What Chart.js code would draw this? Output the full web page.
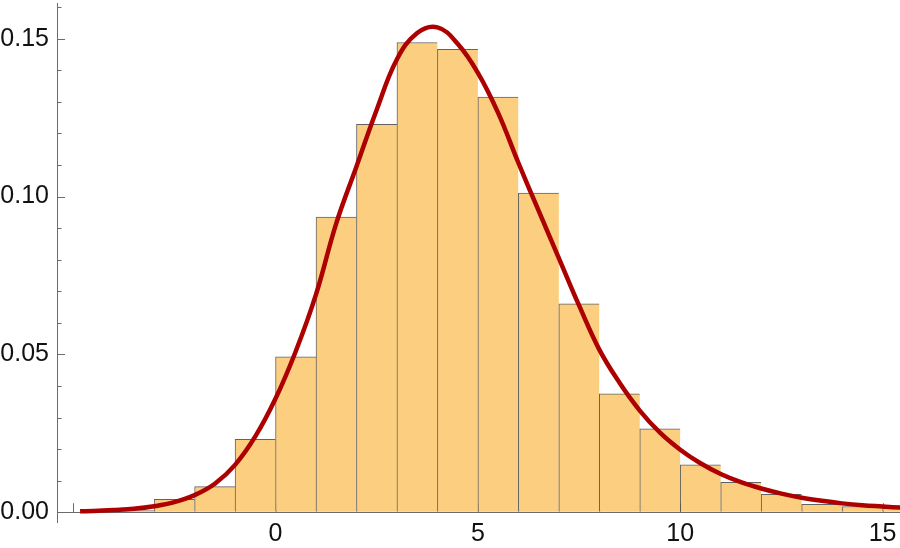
<!DOCTYPE html>
<html>
<head>
<meta charset="utf-8">
<script src="https://cdn.jsdelivr.net/npm/chart.js@4/dist/chart.umd.min.js"></script>
<style>
  html, body { margin: 0; padding: 0; background: #fff; }
</style>
</head>
<body>
<canvas id="chart" width="900" height="548"></canvas>
<script>
  // histogram: left edge of each unit-wide bin and its density
  var binStarts = [-4, -3, -2, -1, 0, 1, 2, 3, 4, 5, 6, 7, 8, 9, 10, 11, 12, 13, 14, 15];
  var binHeights = [0.0005, 0.0041, 0.0081, 0.0231, 0.0492, 0.0935, 0.1229, 0.1488, 0.1466, 0.1315,
    0.1011, 0.0660, 0.0375, 0.0264, 0.0150, 0.0095, 0.0057, 0.0025, 0.0018, 0.0012];

  // fitted density curve
  var curveX = [-4.83, -4.5, -4, -3.5, -3, -2.5, -2, -1.5, -1, -0.5, 0, 0.5, 1, 1.5, 2, 2.5, 3, 3.5, 4, 4.5,
    5, 5.5, 6, 6.5, 7, 7.5, 8, 8.5, 9, 9.5, 10, 10.5, 11, 11.5, 12, 12.5, 13, 13.5, 14, 14.5, 15, 15.5];
  var curveY = [0.0003, 0.0004, 0.0007, 0.0011, 0.0019, 0.0032, 0.0054, 0.0090, 0.0150, 0.0240, 0.0360,
    0.0510, 0.0690, 0.0915, 0.1095, 0.1275, 0.1435, 0.1518, 0.1536, 0.1484, 0.1392, 0.1265, 0.1107,
    0.0955, 0.0805, 0.0655, 0.0515, 0.0410, 0.0322, 0.0252, 0.0198, 0.0155, 0.0121, 0.0095, 0.0075,
    0.0059, 0.0046, 0.0036, 0.0028, 0.0022, 0.0018, 0.0014];

  var xTicks = [-5, 0, 5, 10, 15];
  var xLabels = ['', '0', '5', '10', '15'];
  var yTicks = [0, 0.05, 0.10, 0.15];
  var yLabels = ['0.00', '0.05', '0.10', '0.15'];
  var yMinorTicks = [0.01, 0.02, 0.03, 0.04, 0.06, 0.07, 0.08, 0.09, 0.11, 0.12, 0.13, 0.14, 0.16];

  var axisColor = '#6b6b6b';
  var labelFont = { family: "'Liberation Sans', Arial, sans-serif", size: 25 };

  // Mathematica-style ticks pointing into the plot
  var innerTicks = {
    id: 'innerTicks',
    beforeDatasetsDraw: function (chart) {
      var ctx = chart.ctx;
      var xs = chart.scales.x;
      var ys = chart.scales.y;
      var left = chart.chartArea.left;
      var base = ys.getPixelForValue(0);
      ctx.save();
      ctx.strokeStyle = axisColor;
      ctx.lineWidth = 1;
      ctx.beginPath();
      yTicks.forEach(function (v) {
        var p = Math.round(ys.getPixelForValue(v)) + 0.5;
        ctx.moveTo(left, p);
        ctx.lineTo(left + 8, p);
      });
      yMinorTicks.forEach(function (v) {
        var p = Math.round(ys.getPixelForValue(v)) + 0.5;
        ctx.moveTo(left, p);
        ctx.lineTo(left + 4.5, p);
      });
      xTicks.forEach(function (v) {
        var p = Math.round(xs.getPixelForValue(v)) + 0.5;
        ctx.moveTo(p, base);
        ctx.lineTo(p, base - 9);
      });
      ctx.stroke();
      ctx.restore();
    }
  };

  new Chart(document.getElementById('chart'), {
    type: 'bar',
    data: {
      datasets: [{
        type: 'line',
        data: curveX.map(function (x, i) { return { x: x, y: curveY[i] }; }),
        borderColor: '#ad0000',
        borderWidth: 4.5,
        pointRadius: 0,
        fill: false,
        tension: 0.4,
        order: 1
      }, {
        type: 'bar',
        data: binStarts.map(function (b, i) { return { x: b + 0.5, y: binHeights[i] }; }),
        backgroundColor: 'rgb(252,207,128)',
        borderColor: 'rgba(70,70,70,0.85)',
        borderWidth: function (c) {
          return { top: 1, left: 1, right: c.dataIndex === binStarts.length - 1 ? 1 : 0, bottom: 0 };
        },
        barPercentage: 1,
        categoryPercentage: 1,
        order: 2
      }]
    },
    options: {
      responsive: false,
      animation: false,
      layout: { padding: { top: 3, right: 0, bottom: 26, left: 0 } },
      plugins: { legend: { display: false }, tooltip: { enabled: false } },
      scales: {
        x: {
          type: 'linear',
          position: { y: 0 },
          min: -5.4,
          max: 15.43,
          offset: false,
          grid: { display: true, offset: false, drawOnChartArea: false, drawTicks: false },
          border: { display: true, color: axisColor, width: 1 },
          afterBuildTicks: function (s) {
            s.ticks = xTicks.map(function (v) { return { value: v }; });
          },
          ticks: {
            font: labelFont,
            color: '#111',
            padding: 7,
            maxRotation: 0,
            autoSkip: false,
            callback: function (v, i) { return xLabels[i]; }
          },
          afterFit: function (s) { s.paddingLeft = 0; s.paddingRight = 0; }
        },
        y: {
          type: 'linear',
          min: -0.0031,
          max: 0.1613,
          grid: { display: true, drawOnChartArea: false, drawTicks: false },
          border: { display: true, color: axisColor, width: 1 },
          afterBuildTicks: function (s) {
            s.ticks = yTicks.map(function (v) { return { value: v }; });
          },
          ticks: {
            font: labelFont,
            color: '#111',
            padding: 8,
            autoSkip: false,
            callback: function (v, i) { return yLabels[i]; }
          },
          afterFit: function (s) { s.width = 57; s.paddingTop = 0; s.paddingBottom = 0; }
        }
      }
    },
    plugins: [innerTicks]
  });
</script>
</body>
</html>
